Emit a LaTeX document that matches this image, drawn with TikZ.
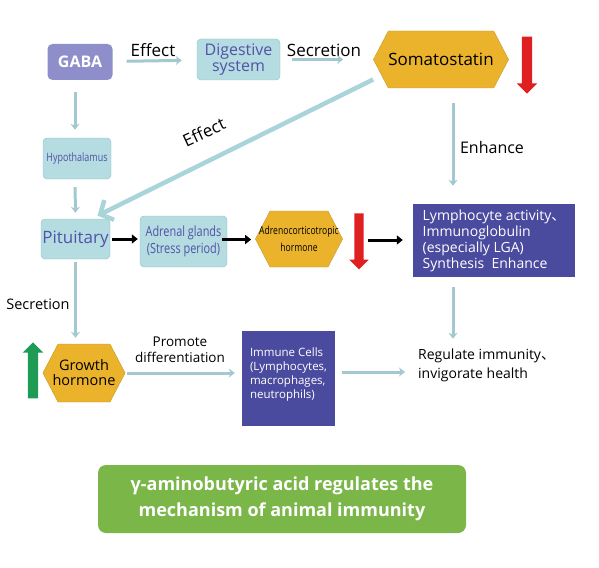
\documentclass[tikz,border=0pt]{standalone}
\usepackage{fontspec}
\setmainfont{Open Sans}
\newfontfamily\narrow[FakeStretch=0.78]{Open Sans}
\newfontfamily\cjk{Noto Sans CJK SC}
\usetikzlibrary{arrows.meta,shapes.symbols,shapes.arrows}
\usepackage{xcolor}
\definecolor{gabafill}{HTML}{8E8ECB}
\definecolor{boxfill}{HTML}{B5DCE1}
\definecolor{boxedge}{HTML}{8DBFC7}
\definecolor{boxtext}{HTML}{5252A8}
\definecolor{hexfill}{HTML}{EBB32B}
\definecolor{hexedge}{HTML}{C39B2E}
\definecolor{cellfill}{HTML}{4A4A9E}
\definecolor{flowline}{HTML}{A2C8D0}
\definecolor{effectline}{HTML}{A9D5DA}
\definecolor{downred}{HTML}{DF2020}
\definecolor{upgreen}{HTML}{1E9C55}
\definecolor{titlefill}{HTML}{7AB648}

\tikzset{
	organ/.style={draw=boxedge, fill=boxfill, rounded corners=4pt, text=boxtext, align=center, inner sep=0pt},
	hormone/.style={signal, signal to=west and east, signal pointer angle=125, draw=hexedge, fill=hexfill, align=center, inner sep=0pt},
	cellbox/.style={fill=cellfill, text=white, align=left, inner sep=0pt},
	flow/.style={draw=flowline, line width=3pt, -{Stealth[length=6pt,width=9pt]}},
	drive/.style={draw=black, line width=3pt, -{Triangle[length=6pt,width=9pt]}},
	effect/.style={draw=effectline, line width=4.5pt, -{Straight Barb[length=10pt,width=22pt]}},
	fall/.style={single arrow, fill=downred, rotate=-90, minimum height=57pt, single arrow head extend=5pt, single arrow head indent=0pt, inner xsep=0pt, inner ysep=5pt},
	rise/.style={single arrow, fill=upgreen, rotate=90, minimum height=57pt, single arrow head extend=5pt, single arrow head indent=0pt, inner xsep=0pt, inner ysep=5pt},
	word/.style={align=center, inner sep=0pt}
}

\begin{document}
\begin{tikzpicture}[x=1pt, y=-1pt]
	\useasboundingbox (0,0) rectangle (599,567);
	\node (gaba) [fill=gabafill, rounded corners=5pt, text=white, font=\bfseries\fontsize{16}{16}\selectfont, minimum width=65pt, minimum height=36pt, inner sep=0pt] at (80,62) {GABA};
	\node (dig) [organ, font=\fontsize{16}{14}\selectfont, minimum width=83pt, minimum height=41pt] at (238.5,59.5) {Digestive\\system};
	\node (soma) [hormone, font=\fontsize{17}{17}\selectfont, minimum width=128pt, minimum height=57pt] at (441,59.5) {Somatostatin};
	\node (sdown) [fall] at (527,62.5) {};
	\node (hypo) [organ, font=\narrow\fontsize{11.5}{12}\selectfont, minimum width=68pt, minimum height=41pt] at (77,158.5) {Hypothalamus};
	\node (pit) [organ, font=\fontsize{17}{17}\selectfont, minimum width=69pt, minimum height=40pt] at (75.5,239) {Pituitary};
	\node (adr) [organ, font=\narrow\fontsize{14}{17}\selectfont, minimum width=87pt, minimum height=51pt] at (183.5,241.5) {Adrenal glands\\(Stress period)};
	\node (acth) [hormone, font=\narrow\fontsize{11}{17}\selectfont, minimum height=56pt] at (299,239) {\makebox[58pt]{Adrenocorticotropic}\\hormone};
	\node (adown) [fall, minimum height=56pt, inner ysep=4.5pt] at (359,239) {};
	\node (lymph) [cellbox, font=\fontsize{14}{16}\selectfont, minimum width=162pt, minimum height=73pt] at (494,240.5) {Lymphocyte activity{\cjk 、}\\Immunoglobulin\\(especially LGA)\\Synthesis~ Enhance};
	\node (growth) [hormone, font=\fontsize{14.5}{15}\selectfont, minimum height=58pt] at (84,373) {Growth\\\makebox[52pt]{hormone}};
	\node (gup) [rise, minimum height=56pt] at (33,373) {};
	\node (immune) [cellbox, font=\fontsize{11.5}{14}\selectfont, minimum width=93pt, minimum height=95pt] at (288.5,378.5) {Immune Cells\\(Lymphocytes,\\macrophages,\\neutrophils)\\[-3pt]\mbox{}};
	\node (reg) [word, align=left, anchor=west, font=\fontsize{14}{19}\selectfont] at (418,365.5) {Regulate immunity{\cjk 、}\\invigorate health};
	\node (title) [fill=titlefill, rounded corners=8pt, text=white, align=center, inner sep=0pt, font=\bfseries\fontsize{18}{26}\selectfont, minimum width=368pt, minimum height=68pt] at (282,499) {γ-aminobutyric acid regulates the\\mechanism of animal immunity};
	\node (effect1) [word, font=\fontsize{17}{17}\selectfont] at (153,50) {Effect};
	\node (secr1) [word, font=\fontsize{17}{17}\selectfont] at (324,50) {Secretion};
	\node (enh) [word, font=\fontsize{16}{16}\selectfont] at (492,147) {Enhance};
	\node (effect2) [word, rotate=25, font=\fontsize{17}{17}\selectfont] at (204,132) {Effect};
	\node (secr2) [word, font=\fontsize{14.5}{15}\selectfont] at (38,304) {Secretion};
	\node (prom) [word, font=\fontsize{13.5}{16}\selectfont] at (180,350) {Promote\\differentiation};
	\draw[flow, shorten <=14pt, shorten >=15pt] (gaba) -- (dig);
	\draw[flow, shorten <=12pt, shorten >=30pt] (dig) -- (dig -| soma.west);
	\draw[flow, shorten <=15pt, shorten >=18pt] ([xshift=12pt]soma.south) -- ([xshift=-41pt]lymph.north);
	\draw[effect, shorten >=7pt] ([yshift=-20pt]soma.west) -- ([xshift=-19pt]pit.north east);
	\draw[flow, shorten <=12pt, shorten >=8pt] ([xshift=-5pt]gaba.south) -- ([xshift=-2pt]hypo.north);
	\draw[flow, shorten <=8pt, shorten >=6pt] ([xshift=-2pt]hypo.south) -- (pit.north);
	\draw[drive, shorten <=2pt, shorten >=2pt] (pit.east) -- (pit.east -| adr.west);
	\draw[drive, shorten <=-5pt, shorten >=4pt] ([yshift=-0.5pt]pit.east -| adr.east) -- ([yshift=-0.5pt]pit.east -| acth.west);
	\draw[drive, shorten <=25pt, shorten >=10pt] ([yshift=-1pt]acth.east) -- ([yshift=-1pt]acth.east -| lymph.west);
	\draw[flow, shorten <=10pt, shorten >=10pt] ([xshift=-41pt]lymph.south) -- ([xshift=-41pt]lymph.south |- reg.north);
	\draw[flow, shorten <=3pt, shorten >=6pt] (pit.south) -- (pit.south |- growth.north);
	\draw[flow, shorten <=2pt, shorten >=7pt] (growth.east) -- (growth.east -| immune.west);
	\draw[flow, shorten <=7pt, shorten >=13pt] ([yshift=6.5pt]immune.east) -- ([yshift=6.5pt]immune.east -| reg.west);
\end{tikzpicture}
\end{document}
